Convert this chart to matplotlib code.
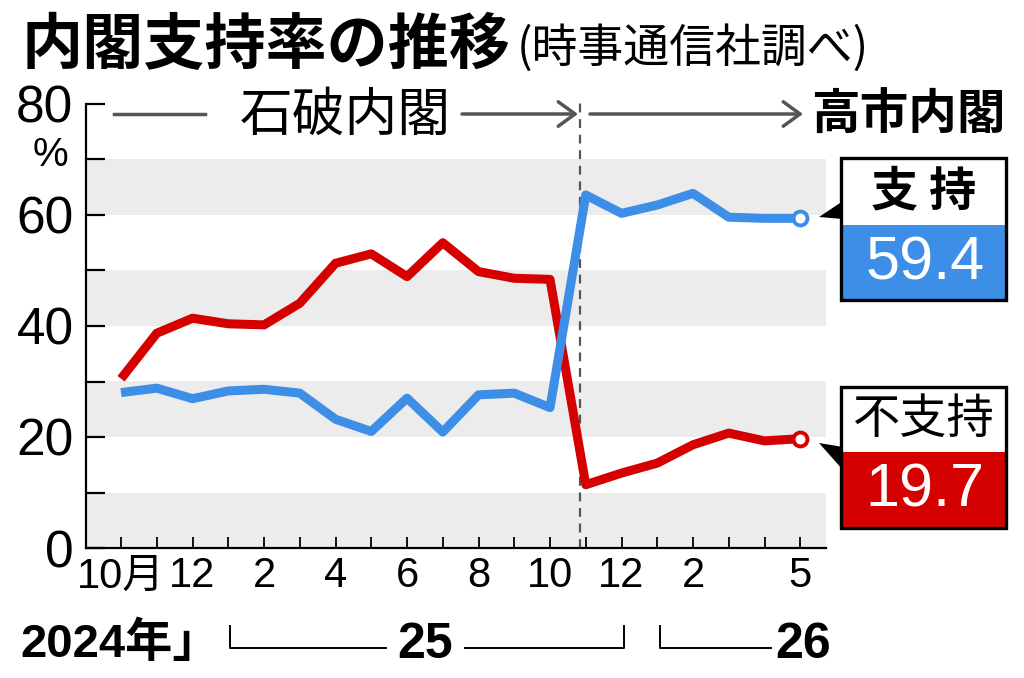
import numpy as np
import matplotlib.pyplot as plt
from matplotlib import font_manager
from matplotlib.patches import Rectangle, Polygon
from matplotlib.lines import Line2D

plt.rcParams['font.family'] = ['Noto Sans CJK JP', 'DejaVu Sans']

# monthly Jiji Press polls, Oct 2024 .. May 2026
months = ['2024-10', '2024-11', '2024-12', '2025-01', '2025-02', '2025-03',
          '2025-04', '2025-05', '2025-06', '2025-07', '2025-08', '2025-09',
          '2025-10', '2025-11', '2025-12', '2026-01', '2026-02', '2026-03',
          '2026-04', '2026-05']
support = [28.0, 28.8, 26.9, 28.3, 28.6, 27.9, 23.2, 21.0, 27.0, 20.9,
           27.6, 27.9, 25.3, 63.6, 60.3, 61.8, 63.9, 59.6, 59.4, 59.4]
disapprove = [30.5, 38.7, 41.4, 40.4, 40.2, 44.1, 51.3, 53.0, 48.9, 55.0,
              49.8, 48.6, 48.4, 11.4, 13.5, 15.3, 18.6, 20.7, 19.3, 19.7]
tick_labels = ['10月', '', '12', '', '2', '', '4', '', '6', '', '8', '',
               '10', '', '12', '', '2', '', '', '5']
y_ticks = [0, 10, 20, 30, 40, 50, 60, 70, 80]
y_labels = ['0', '', '20', '', '40', '', '60', '', '80']
takaichi_start = 12.85  # cabinet change, Oct 2025

BLUE = '#3d8ee6'
RED = '#d50000'
GRAY = '#555555'
NUM = ['Liberation Sans', 'DejaVu Sans']

# narrow digits for the month row if the narrow face is there
installed = {f.name for f in font_manager.fontManager.ttflist}
if 'Liberation Sans Narrow' in installed:
    NARROW = ['Liberation Sans Narrow', 'Noto Sans CJK JP']
    month_size = 36
else:
    NARROW = ['Liberation Sans', 'Noto Sans CJK JP']
    month_size = 30

W, H = 1024, 678


def fx(px):
    return px / W


def fy(py):
    return 1 - py / H


fig = plt.figure(figsize=(W / 100, H / 100), dpi=100)
ax = fig.add_axes([fx(86), fy(548), (826 - 86) / W, (548 - 104) / H])

x = np.arange(len(months))

# shaded bands
for lo in (0, 20, 40, 60):
    ax.axhspan(lo, lo + 10, color='#ececec', lw=0, zorder=0)

ax.vlines(takaichi_start, 0, 81.2, colors=GRAY, lw=1.6,
          linestyles=(0, (4, 3)), clip_on=False, zorder=1)

ax.plot(x, disapprove, color=RED, lw=6.5, solid_capstyle='butt', zorder=3)
ax.plot(x, support, color=BLUE, lw=6.5, solid_capstyle='butt', zorder=4)
ax.plot(x[-1], disapprove[-1], 'o', ms=10, mfc='white', mec=RED, mew=2.8,
        zorder=5, clip_on=False)
ax.plot(x[-1], support[-1], 'o', ms=10, mfc='white', mec=BLUE, mew=2.8,
        zorder=5, clip_on=False)

ax.set_xlim(-0.98, 19.72)
ax.set_ylim(0, 80)
for s in ('top', 'right'):
    ax.spines[s].set_visible(False)
for s in ('left', 'bottom'):
    ax.spines[s].set_linewidth(1.6)

ax.set_yticks(y_ticks)
ax.set_yticklabels(y_labels, fontfamily=NUM, fontsize=37)
ax.tick_params(axis='y', direction='in', length=14, width=1.6, pad=9)
ax.set_xticks(x)
ax.set_xticklabels(tick_labels, fontfamily=NARROW, fontsize=month_size)
ax.tick_params(axis='x', direction='in', length=8, width=1.3, pad=6)

fig.text(fx(50), fy(155), '%', fontfamily=NUM, fontsize=29,
         ha='center', va='center')

# title
fig.text(fx(22), fy(46), '内閣支持率の推移', fontsize=44, fontweight='bold',
         va='center')
fig.text(fx(517), fy(49), '(時事通信社調べ)', fontsize=33, va='center')

# cabinet headers
def hline(x0, x1, y, **kw):
    fig.add_artist(Line2D([fx(x0), fx(x1)], [fy(y), fy(y)],
                          transform=fig.transFigure, **kw))


def arrow(x0, x1, y):
    ax.annotate('', xy=(fx(x1), fy(y)), xytext=(fx(x0), fy(y)),
                xycoords='figure fraction',
                arrowprops=dict(arrowstyle='->,head_length=0.55,head_width=0.4',
                                color=GRAY, lw=2.5, mutation_scale=22,
                                shrinkA=0, shrinkB=0))


hline(114, 205, 114, color=GRAY, lw=2.5)
fig.text(fx(345), fy(115), '石破内閣', fontsize=38, ha='center', va='center')
arrow(462, 578, 114)
arrow(590, 803, 114)
fig.text(fx(811), fy(115), '高市内閣', fontsize=35, fontweight='bold',
         va='center')

# year row
fig.text(fx(20), fy(645), '2024年」', fontfamily=NARROW, fontsize=34,
         fontweight='bold', va='center')
fig.text(fx(425), fy(645), '25', fontfamily=NARROW, fontsize=36,
         fontweight='bold', ha='center', va='center')
fig.text(fx(803), fy(645), '26', fontfamily=NARROW, fontsize=36,
         fontweight='bold', ha='center', va='center')
for xs in ([230, 230, 386], [465, 624, 624], [660, 660, 771]):
    ys = [626, 648, 648] if xs[0] == xs[1] else [648, 648, 626]
    fig.add_artist(Line2D([fx(v) for v in xs], [fy(v) for v in ys],
                          transform=fig.transFigure, color='black', lw=1.4))

# value boxes
def value_box(top, mid, bot, color, head, value, tail, head_weight):
    fig.add_artist(Polygon([(fx(px), fy(py)) for px, py in tail],
                           closed=True, transform=fig.transFigure,
                           fc='black', ec='none'))
    fig.add_artist(Rectangle((fx(841), fy(bot)), (1006 - 841) / W,
                             (bot - mid) / H, transform=fig.transFigure,
                             fc=color, ec='none'))
    fig.add_artist(Rectangle((fx(841), fy(bot)), (1006 - 841) / W,
                             (bot - top) / H, transform=fig.transFigure,
                             fc='none', ec='black', lw=2.4))
    fig.text(fx(924), fy((top + mid) / 2), head, fontsize=34,
             fontweight=head_weight, ha='center', va='center')
    fig.text(fx(925), fy((mid + bot) / 2 + 1), value, fontfamily=NUM,
             fontsize=44, color='white', ha='center', va='center')


value_box(158, 225, 300, BLUE, '支 持', f'{support[-1]:.1f}',
          [(819, 217), (843, 201), (843, 219)], 'bold')
value_box(387, 452, 528, RED, '不支持', f'{disapprove[-1]:.1f}',
          [(819, 443), (843, 447), (843, 470)], 'normal')

fig.savefig('out.png', dpi=100)
